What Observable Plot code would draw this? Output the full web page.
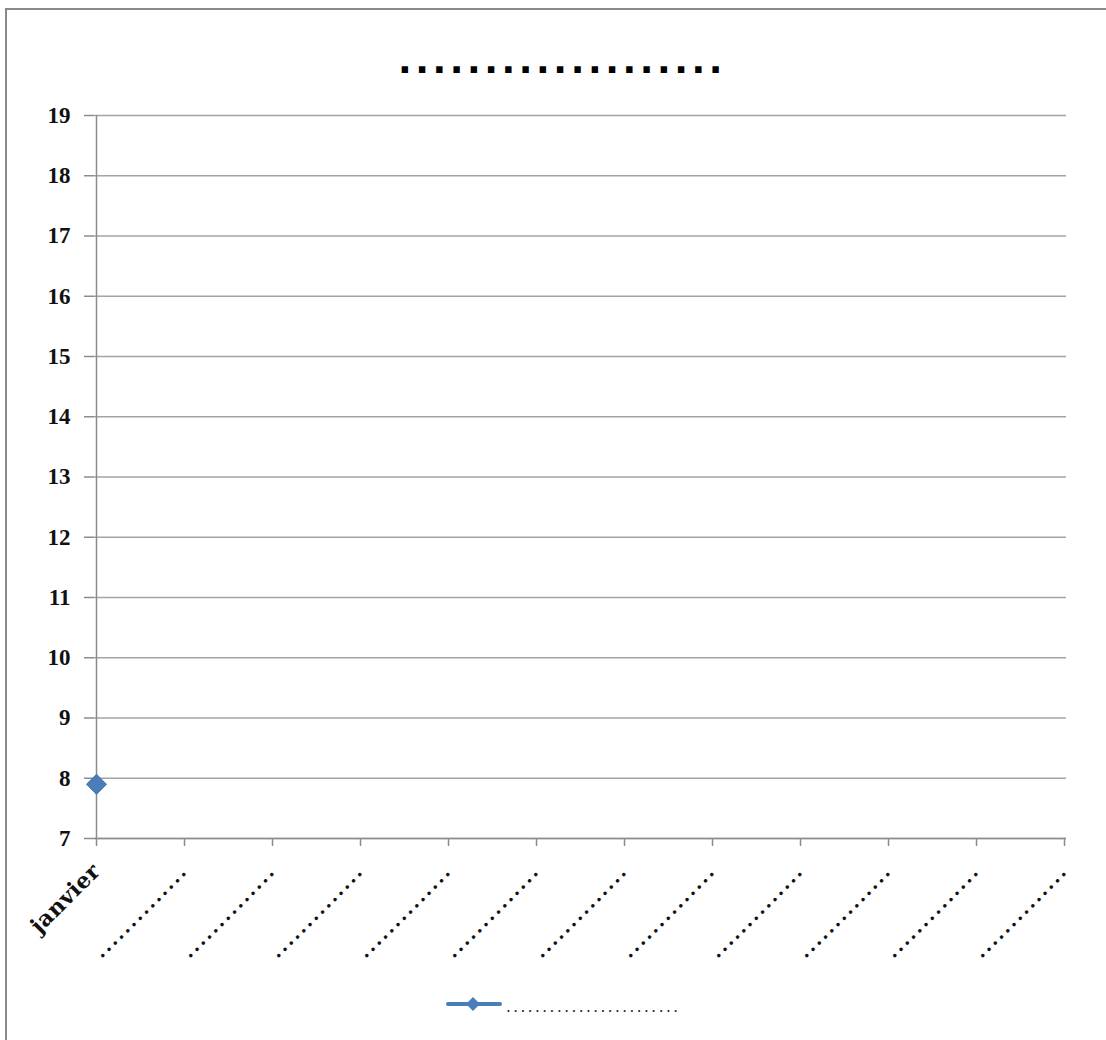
<!DOCTYPE html>
<html>
<head>
<meta charset="utf-8">
<script src="https://cdn.jsdelivr.net/npm/d3@7"></script>
<script src="https://cdn.jsdelivr.net/npm/@observablehq/plot@0.6"></script>
<style>
  html, body { margin: 0; padding: 0; background: #fff; }
  body { width: 1106px; height: 1040px; position: relative; overflow: hidden; }
  #frame { position: absolute; left: 5px; top: 8px; width: 1200px; height: 1200px;
           border-top: 2px solid #8a8a8a; border-left: 2px solid #8a8a8a; }
  #chart { position: absolute; left: 0; top: 0; }
  #title { position: absolute; left: 0; width: 1124px; top: 43px; text-align: center;
           font-family: "DejaVu Sans"; font-weight: bold; font-size: 36px; letter-spacing: 3.6px;
           color: #000; line-height: 36px; }
  #legend { position: absolute; left: 446px; top: 991px; display: flex; align-items: center; }
  #legend span { font-family: "DejaVu Serif"; font-size: 15px; letter-spacing: 2.5px; color: #222;
                 position: relative; top: 4px; margin-left: 4px; }
</style>
</head>
<body>
<div id="frame"></div>
<div id="chart"></div>
<div id="title"></div>
<div id="legend"></div>
<script>
// ---- data ----
const chartTitle = "...................";
const months = ["janvier", "..............", "..............", "..............", "..............",
  "..............", "..............", "..............", "..............", "..............",
  "..............", ".............."];
const temps = [7.9, null, null, null, null, null, null, null, null, null, null, null];
const yTicks = [7, 8, 9, 10, 11, 12, 13, 14, 15, 16, 17, 18, 19];
const seriesName = "........................";

const data = months.map((m, i) => ({i, m, v: temps[i]}));
const idx = months.map((m, i) => i);
const blue = "#4a7ebb";

const plot = Plot.plot({
  width: 1106, height: 1040,
  marginLeft: 94, marginRight: 40, marginTop: 115, marginBottom: 202,
  style: {fontFamily: "DejaVu Serif", fontSize: "18px", fontWeight: "bold", background: "transparent", overflow: "visible"},
  x: {type: "point", domain: idx, padding: 0},
  y: {domain: [7, 19]},
  marks: [
    Plot.gridY(yTicks, {stroke: "#a3a3a3", strokeOpacity: 1, strokeWidth: 1.5}),
    Plot.ruleY([7], {stroke: "#8c8c8c", strokeWidth: 1.5}),
    Plot.ruleX([0], {stroke: "#8c8c8c", strokeWidth: 1.5}),
    Plot.axisY(yTicks, {tickSize: 10, tickPadding: 14, stroke: "#8c8c8c", strokeWidth: 1.5, fill: "#111",
      label: null, tickFormat: d => String(d), fontFamily: "Liberation Serif", fontSize: 22, fontWeight: "bold"}),
    Plot.axisX(idx, {tickSize: 8, tickPadding: 21, tickRotate: -45, stroke: "#8c8c8c", strokeWidth: 1.5,
      fill: "#111", label: null, tickFormat: i => months[i], fontFamily: "DejaVu Serif", fontSize: 19, fontWeight: "bold"}),
    Plot.line(data.filter(d => d.v != null), {x: "i", y: "v", stroke: blue, strokeWidth: 3}),
    Plot.dot(data.filter(d => d.v != null), {x: "i", y: "v", symbol: "diamond2", r: 9, fill: blue, stroke: "#3d6ea8", strokeWidth: 1})
  ]
});
// widen the dotted placeholder labels; enlarge the month name and the y tick numbers
plot.querySelectorAll("text").forEach(t => {
  const s = t.textContent;
  if (/^\.+$/.test(s)) t.setAttribute("letter-spacing", "2.2px");
  else if (s === months[0]) { t.setAttribute("font-size", "22"); t.setAttribute("letter-spacing", "0.4px"); }
  else if (/^\d+$/.test(s)) { t.style.fontSize = "23px"; t.style.fontFamily = "Liberation Serif"; t.style.fontWeight = "bold"; }
});
document.getElementById("chart").appendChild(plot);
document.getElementById("title").textContent = chartTitle;

const leg = document.getElementById("legend");
leg.innerHTML = `<svg width="56" height="24"><line x1="2" y1="13" x2="54" y2="13" stroke="${blue}" stroke-width="4" stroke-linecap="round"/><path d="M27,6 L34,13 L27,20 L20,13 Z" fill="${blue}"/></svg><span></span>`;
leg.querySelector("span").textContent = seriesName;
</script>
</body>
</html>
